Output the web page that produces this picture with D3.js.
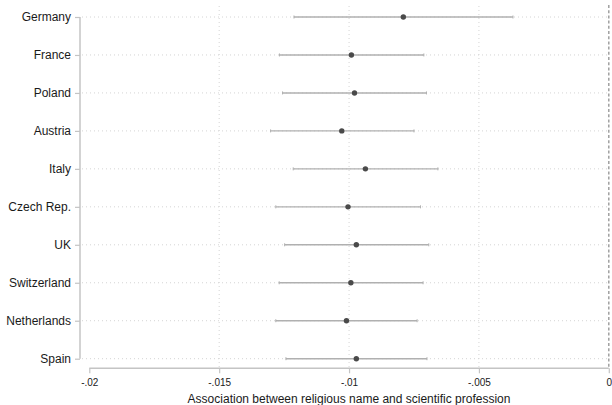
<!DOCTYPE html>
<html>
<head>
<meta charset="utf-8">
<script src="https://cdn.jsdelivr.net/npm/d3@7"></script>
<style>
  html, body { margin: 0; padding: 0; background: #fff; }
  svg { display: block; font-family: "Liberation Sans", Arial, sans-serif; }
</style>
</head>
<body>
<svg id="chart" width="612" height="405"></svg>
<script>
// Countries, point estimates and 95% confidence bounds
const countries = ["Germany", "France", "Poland", "Austria", "Italy",
                   "Czech Rep.", "UK", "Switzerland", "Netherlands", "Spain"];
const estimates = [-0.00791, -0.00991, -0.00979, -0.01028, -0.00937,
                   -0.01004, -0.00972, -0.00993, -0.01010, -0.00972];
const lowerCI   = [-0.01212, -0.01268, -0.01256, -0.01302, -0.01215,
                   -0.01282, -0.01248, -0.01269, -0.01282, -0.01243];
const upperCI   = [-0.00369, -0.00712, -0.00702, -0.00750, -0.00658,
                   -0.00725, -0.00693, -0.00715, -0.00738, -0.00700];
const xTicks = [-0.02, -0.015, -0.01, -0.005, 0];
const xTickLabels = ["-.02", "-.015", "-.01", "-.005", "0"];
const xTitle = "Association between religious name and scientific profession";

const rows = countries.map((c, i) => ({ c, est: estimates[i], lo: lowerCI[i], hi: upperCI[i] }));

const svg = d3.select("#chart");
const x = d3.scaleLinear().domain([-0.02, 0]).range([89.3, 608.8]);
const y = d3.scalePoint().domain(countries).range([17, 358.7]);

const axisColor = "#c4c4c4";
const gridColor = "#d4d4d4";

// Horizontal dotted guides for each country
svg.append("g").selectAll("line").data(countries).join("line")
  .attr("x1", 82).attr("x2", 608)
  .attr("y1", d => y(d)).attr("y2", d => y(d))
  .attr("stroke", gridColor).attr("stroke-width", 1)
  .attr("stroke-dasharray", "1,3");

// Vertical dotted guides at interior ticks
svg.append("g").selectAll("line").data(xTicks.slice(1, -1)).join("line")
  .attr("x1", d => x(d)).attr("x2", d => x(d))
  .attr("y1", 6).attr("y2", 367)
  .attr("stroke", gridColor).attr("stroke-width", 1)
  .attr("stroke-dasharray", "1,3");

// Dashed reference line at zero
svg.append("line")
  .attr("x1", x(0)).attr("x2", x(0))
  .attr("y1", 5).attr("y2", 368)
  .attr("stroke", "#9a9a9a").attr("stroke-width", 1.4)
  .attr("stroke-dasharray", "3,2.2");

// Y axis
const yAxis = svg.append("g").attr("transform", "translate(80,0)")
  .call(d3.axisLeft(y).tickSize(5).tickPadding(4));
yAxis.select(".domain").attr("stroke", axisColor).attr("stroke-width", 1.5)
  .attr("d", `M-0,${y(countries[0])}V${y(countries[countries.length - 1])}`);
yAxis.selectAll(".tick line").attr("stroke", axisColor).attr("stroke-width", 1.2);
yAxis.selectAll(".tick text").attr("fill", "#1a1a1a").style("font-size", "12px");

// X axis
const xAxis = svg.append("g").attr("transform", "translate(0,368.3)")
  .call(d3.axisBottom(x).tickValues(xTicks)
    .tickFormat((d, i) => xTickLabels[i]).tickSize(5).tickPadding(6));
xAxis.select(".domain").attr("stroke", axisColor).attr("stroke-width", 1.5)
  .attr("d", `M${x(-0.02)},0H${x(0)}`);
xAxis.selectAll(".tick line").attr("stroke", axisColor).attr("stroke-width", 1.2);
xAxis.selectAll(".tick text").attr("fill", "#1a1a1a").style("font-size", "10px");

svg.append("text")
  .attr("x", x(-0.01)).attr("y", 403)
  .attr("text-anchor", "middle")
  .attr("fill", "#1a1a1a")
  .style("font-size", "12px")
  .text(xTitle);

// Confidence intervals
const ci = svg.append("g");
ci.selectAll("line.ci").data(rows).join("line").attr("class", "ci")
  .attr("x1", d => x(d.lo)).attr("x2", d => x(d.hi))
  .attr("y1", d => y(d.c)).attr("y2", d => y(d.c))
  .attr("stroke", "#b0b0b0").attr("stroke-width", 1.4);
["lo", "hi"].forEach(k => {
  ci.selectAll("line.cap-" + k).data(rows).join("line").attr("class", "cap-" + k)
    .attr("x1", d => x(d[k])).attr("x2", d => x(d[k]))
    .attr("y1", d => y(d.c) - 1.5).attr("y2", d => y(d.c) + 1.5)
    .attr("stroke", "#b0b0b0").attr("stroke-width", 1);
});

// Point estimates
svg.append("g").selectAll("circle").data(rows).join("circle")
  .attr("cx", d => x(d.est)).attr("cy", d => y(d.c))
  .attr("r", 2.7).attr("fill", "#4a4a4a");
</script>
</body>
</html>
